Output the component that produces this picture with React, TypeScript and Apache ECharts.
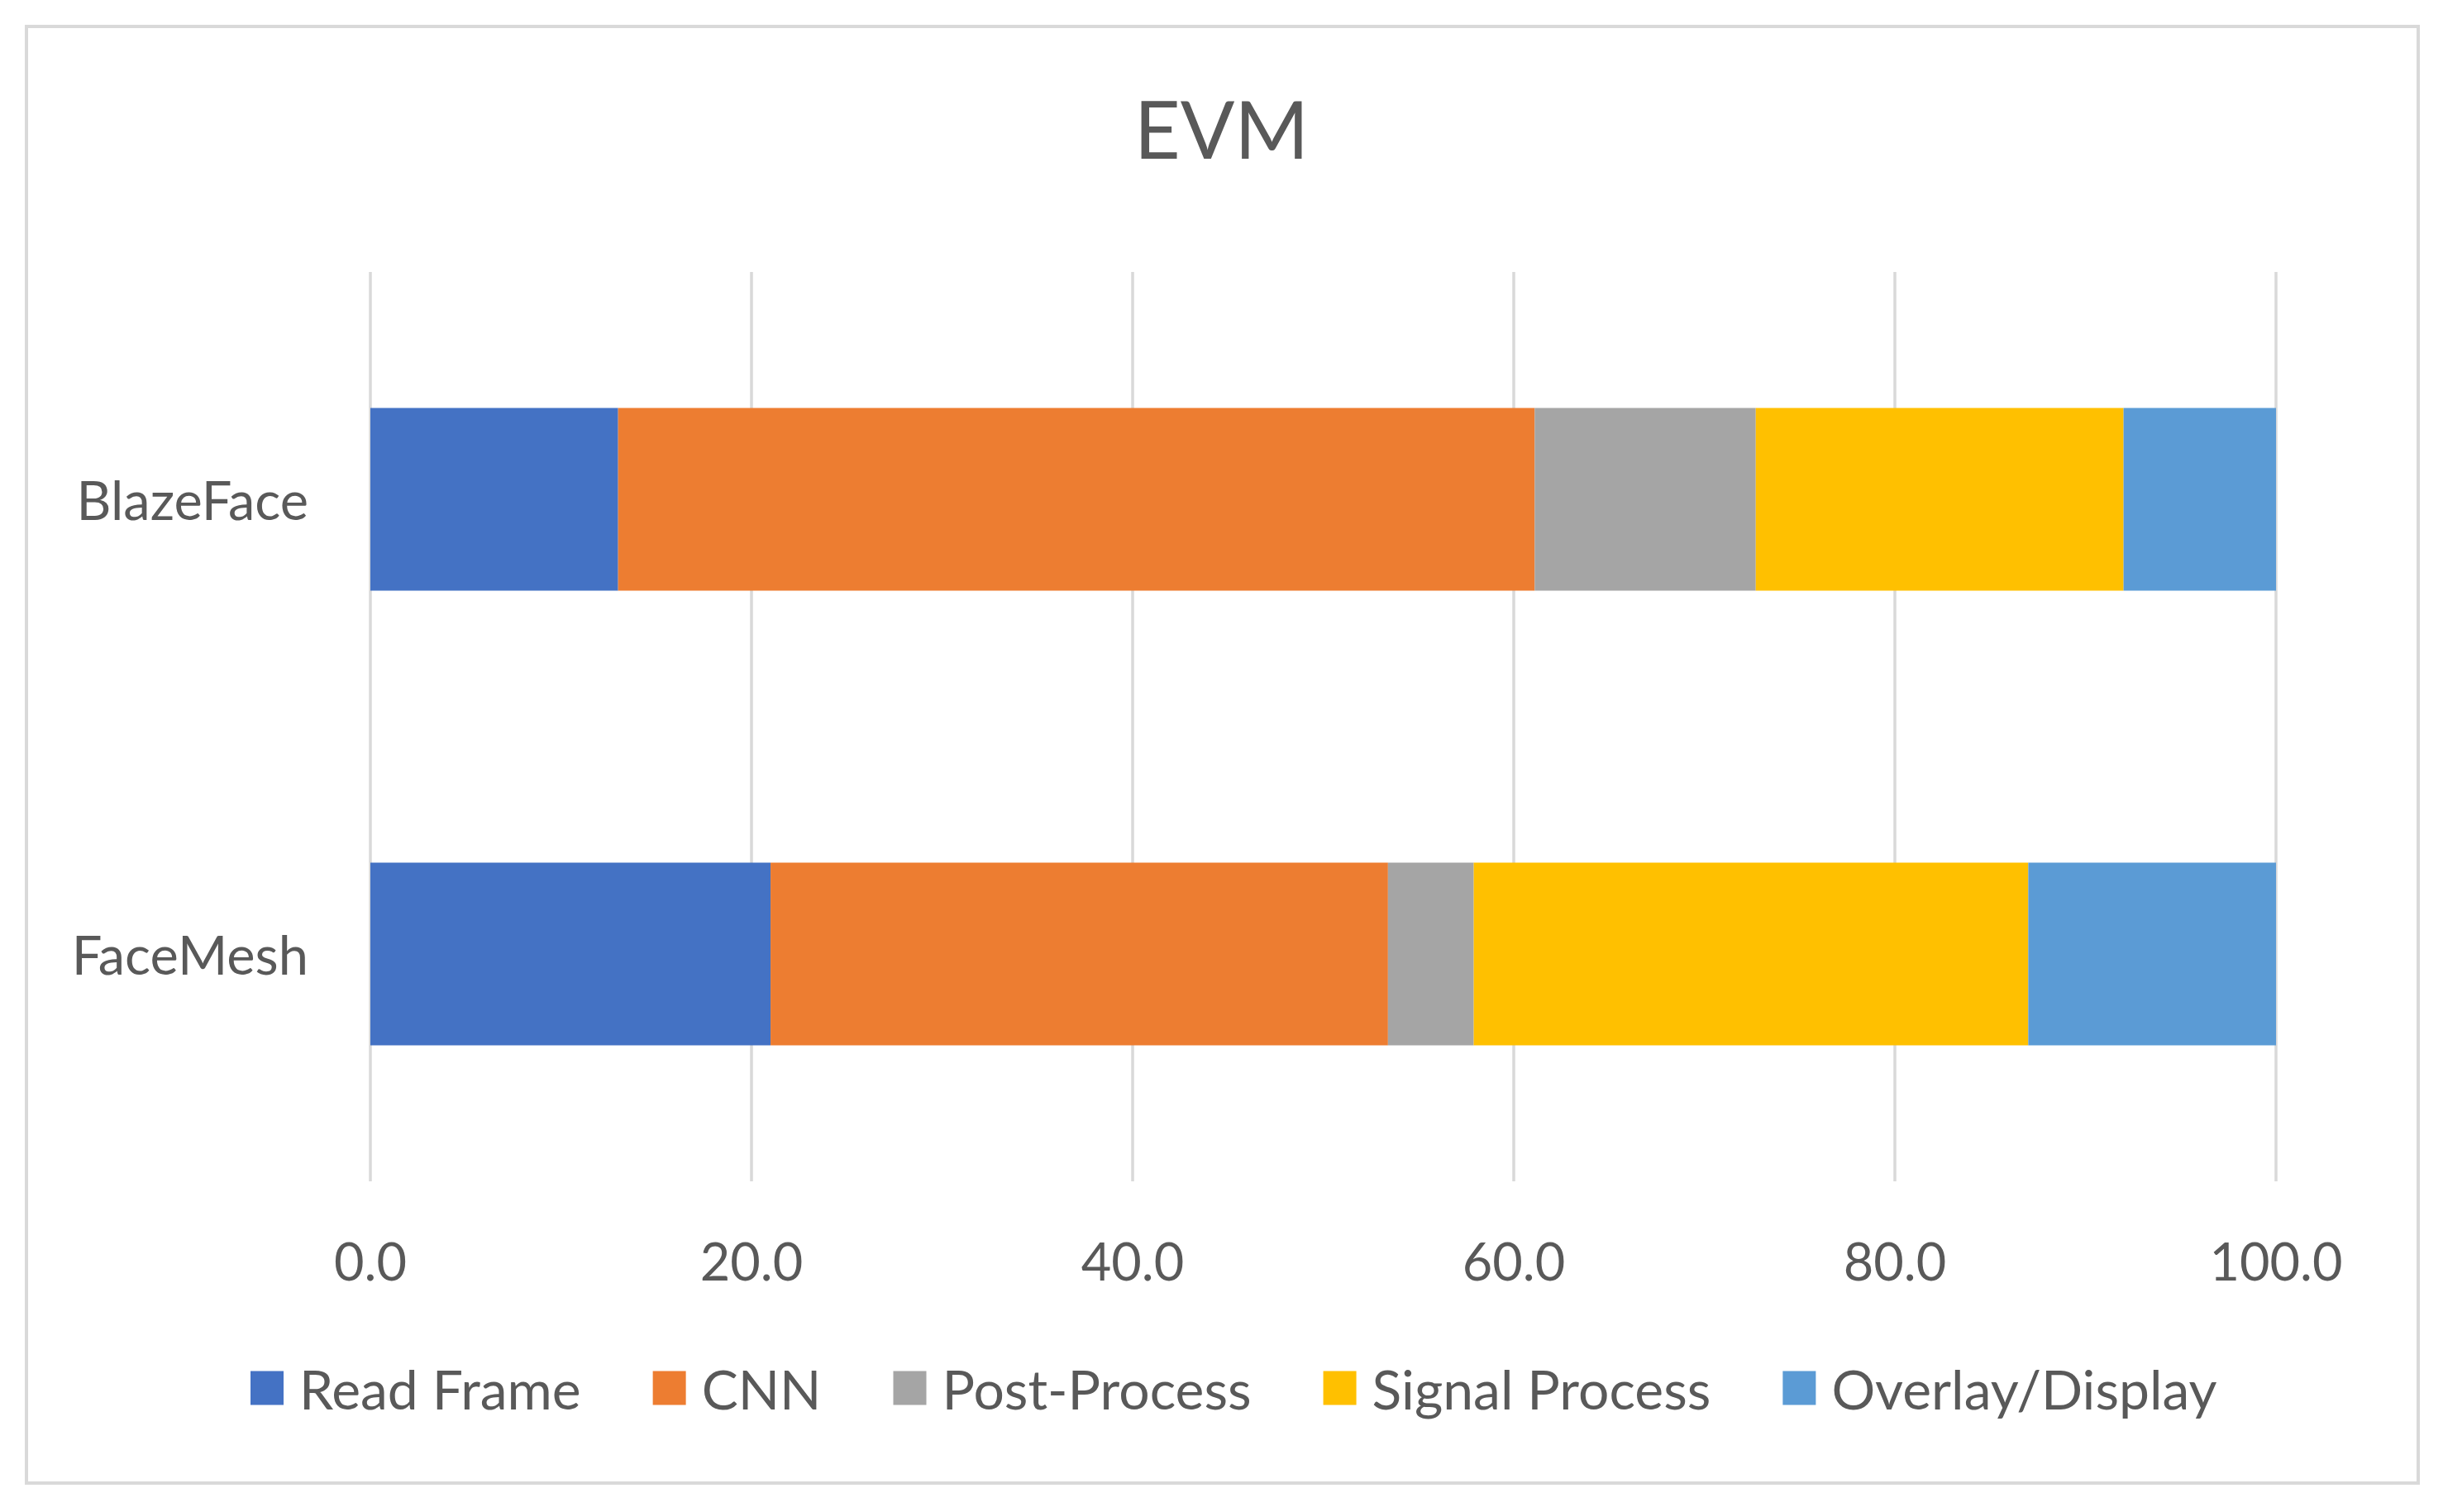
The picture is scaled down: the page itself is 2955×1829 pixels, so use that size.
import React, { useEffect, useRef } from "react";
import * as echarts from "echarts";

const categories = ["BlazeFace", "FaceMesh"];
const seriesNames = ["Read Frame", "CNN", "Post-Process", "Signal Process", "Overlay/Display"];
const readFrame = [13.0, 21.0];
const cnn = [48.1, 32.4];
const postProcess = [11.6, 4.5];
const signalProcess = [19.3, 29.1];
const overlayDisplay = [8.0, 13.0];
const xTicks = [0, 20, 40, 60, 80, 100];
const colors = ["#4472C4", "#ED7D31", "#A5A5A5", "#FFC000", "#5B9BD5"];

const FONT = "Lato";
const TEXT = "#595959";

export default function App() {
  const ref = useRef<HTMLDivElement>(null);
  useEffect(() => {
    document.body.style.margin = "0";
    const chart = echarts.init(ref.current!, null, { renderer: "svg" });
    const values = [readFrame, cnn, postProcess, signalProcess, overlayDisplay];
    chart.setOption({
      animation: false,
      backgroundColor: "#ffffff",
      title: {
        text: "EVM",
        left: "center",
        top: 101,
        textStyle: { fontFamily: FONT, fontSize: 97, fontWeight: "normal", color: TEXT },
      },
      graphic: [
        {
          type: "rect",
          shape: { x: 32, y: 32, width: 2893, height: 1762 },
          style: { fill: "none", stroke: "#d9d9d9", lineWidth: 4 },
          silent: true,
        },
      ],
      legend: {
        left: 298,
        top: 1641,
        itemWidth: 40,
        itemHeight: 41,
        itemGap: 87,
        icon: "rect",
        data: seriesNames,
        textStyle: {
          fontFamily: FONT,
          fontSize: 66,
          color: TEXT,
          padding: [0, 0, 0, 14],
        },
      },
      grid: { left: 448, right: 202, top: 329, bottom: 400, containLabel: false },
      xAxis: {
        type: "value",
        min: xTicks[0],
        max: xTicks[xTicks.length - 1],
        interval: xTicks[1] - xTicks[0],
        axisLine: { show: false },
        axisTick: { show: false },
        splitLine: { show: true, lineStyle: { color: "#d9d9d9", width: 3.5 } },
        axisLabel: {
          fontFamily: FONT,
          fontSize: 63,
          color: TEXT,
          margin: 64,
          formatter: (v: number) => v.toFixed(1),
        },
      },
      yAxis: {
        type: "category",
        data: categories,
        inverse: true,
        axisLine: { show: false },
        axisTick: { show: false },
        splitLine: { show: false },
        axisLabel: { fontFamily: FONT, fontSize: 65, color: TEXT, margin: 75 },
      },
      series: seriesNames.map((name, i) => ({
        name,
        type: "bar",
        stack: "total",
        barWidth: 221,
        data: values[i],
        itemStyle: { color: colors[i] },
        emphasis: { disabled: true },
      })),
    });
    return () => chart.dispose();
  }, []);
  return <div ref={ref} style={{ width: 2955, height: 1829 }} />;
}
